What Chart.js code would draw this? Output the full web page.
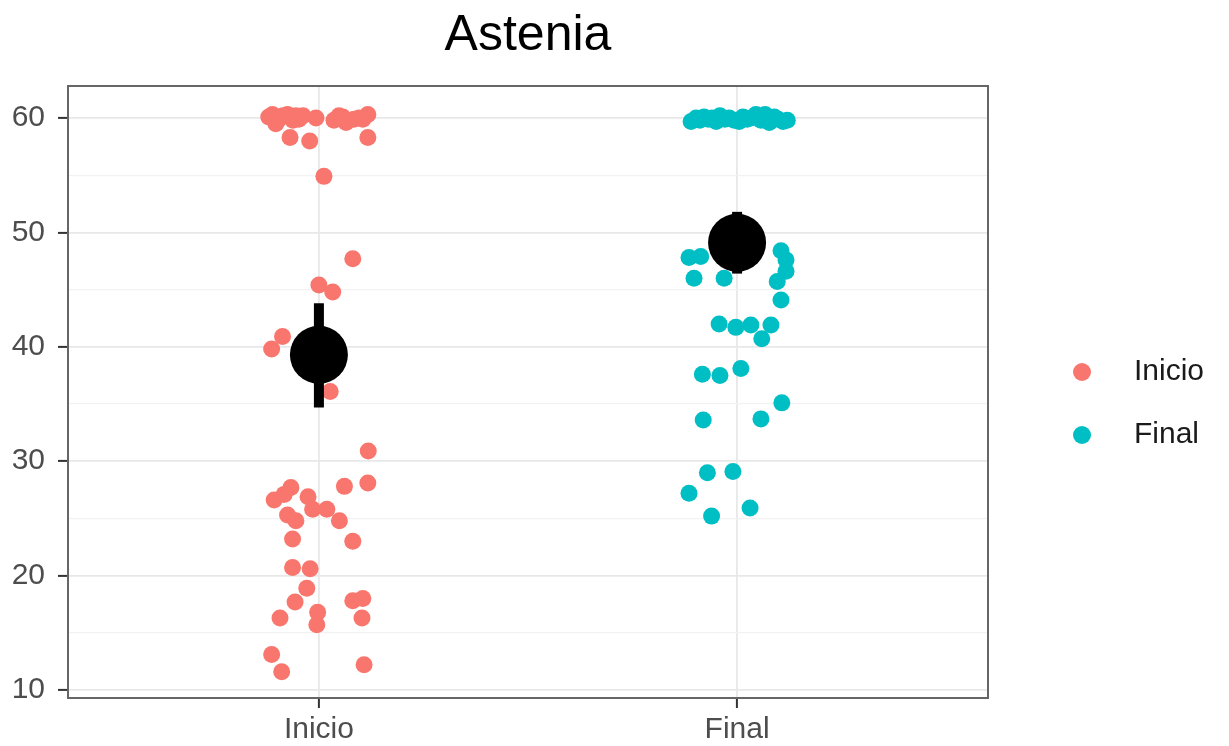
<!DOCTYPE html>
<html>
<head>
<meta charset="utf-8">
<script src="https://cdn.jsdelivr.net/npm/chart.js@4.4.1/dist/chart.umd.min.js"></script>
<style>
  html, body { margin: 0; padding: 0; background: #fff; }
  #wrap { width: 1229px; height: 746px; }
</style>
</head>
<body>
<div id="wrap"><canvas id="chart" width="1229" height="746"></canvas></div>
<script>
// chart data
const chartTitle = 'Astenia';
const categories = ['Inicio', 'Final'];
const seriesColors = ['#F8766D', '#00BFC4'];
const yMajorTicks = [10, 20, 30, 40, 50, 60];
const yMinorTicks = [15, 25, 35, 45, 55];

// jitter offsets (in category units) and values for each group
const inicioJitter = [
  -0.111, -0.096, -0.103, -0.075, -0.055, -0.048, -0.007, 0.048, 0.065, 0.084, 0.117,
  -0.120, -0.086, -0.062, -0.038, 0.036, 0.057, 0.096, 0.105,
  -0.069, -0.022, 0.117, 0.012, 0.081, 0.000, 0.033, -0.087, -0.113, 0.027,
  0.118, 0.117, -0.067, -0.083, -0.107, 0.061, -0.026, -0.015, 0.019, -0.075,
  -0.055, 0.049, -0.063, 0.081, -0.063, -0.021, -0.029, -0.057, 0.081, 0.105,
  -0.093, -0.003, -0.005, 0.103, -0.113, -0.089, 0.108
];
const inicioValues = [
  60.3, 59.9, 59.5, 60.3, 60.2, 59.9, 60.0, 60.2, 59.6, 59.9, 60.3,
  60.1, 60.2, 59.8, 60.2, 59.8, 60.1, 60.0, 59.9,
  58.3, 58.0, 58.3, 54.9, 47.7, 45.4, 44.8, 40.9, 39.8, 36.1,
  30.9, 28.1, 27.7, 27.1, 26.6, 27.8, 26.9, 25.8, 25.8, 25.3,
  24.8, 24.8, 23.2, 23.0, 20.7, 20.6, 18.9, 17.7, 17.8, 18.0,
  16.3, 16.8, 15.7, 16.3, 13.1, 11.6, 12.2
];
const finalJitter = [
  -0.110, -0.098, -0.089, -0.079, -0.069, -0.060, -0.050, -0.041, -0.029, -0.019, -0.007, 0.005,
  0.014, 0.024, 0.033, 0.045, 0.057, 0.067, 0.077, 0.089, 0.098, 0.110, 0.120,
  -0.115, -0.087, -0.103, -0.031, 0.105, 0.117, 0.117, 0.096, 0.105,
  -0.043, -0.003, 0.033, 0.081, 0.059, -0.083, -0.041, 0.009, 0.107,
  -0.081, 0.057, -0.071, -0.010, -0.115, -0.061, 0.031
];
const finalValues = [
  59.7, 60.0, 59.8, 60.1, 59.9, 60.0, 59.7, 60.2, 59.9, 60.0, 59.8, 59.7,
  60.1, 59.9, 60.0, 60.3, 59.8, 60.3, 59.6, 60.1, 59.9, 59.7, 59.8,
  47.8, 47.9, 46.0, 46.0, 48.4, 47.6, 46.6, 45.7, 44.1,
  42.0, 41.7, 41.9, 41.9, 40.7, 37.6, 37.5, 38.1, 35.1,
  33.6, 33.7, 29.0, 29.1, 27.2, 25.2, 25.9
];

// mean and interval per group
const means = [39.3, 49.1];
const errLow = [34.7, 46.4];
const errHigh = [43.8, 51.8];

const FONT = "'Liberation Sans', Arial, Helvetica, sans-serif";

const toPoints = (group, jitter, values) => values.map((v, i) => ({ x: group + jitter[i], y: v }));

const errorBarSets = categories.map((c, i) => ({
  label: c + ' range',
  data: [{ x: i + 1, y: errLow[i] }, { x: i + 1, y: errHigh[i] }],
  showLine: true,
  borderColor: '#000',
  borderWidth: 10,
  borderCapStyle: 'butt',
  pointRadius: 0,
  order: 0
}));

const jitterSets = [
  { label: categories[0], data: toPoints(1, inicioJitter, inicioValues), backgroundColor: seriesColors[0] },
  { label: categories[1], data: toPoints(2, finalJitter, finalValues), backgroundColor: seriesColors[1] }
].map(d => Object.assign(d, { pointRadius: 8.5, borderWidth: 0, order: 2 }));

const meanSet = {
  label: 'mean',
  data: means.map((m, i) => ({ x: i + 1, y: m })),
  backgroundColor: '#000',
  pointRadius: 29,
  borderWidth: 0,
  order: 0
};

const isMajor = ctx => ctx.tick && yMajorTicks.includes(ctx.tick.value);

// title, panel border and legend drawn by hand, ggplot style
const decorPlugin = {
  id: 'decor',
  afterDatasetsDraw(chart) {
    const { ctx, chartArea: a } = chart;
    ctx.save();
    ctx.strokeStyle = '#666';
    ctx.lineWidth = 2;
    ctx.strokeRect(a.left, a.top, a.right - a.left, a.bottom - a.top);
    ctx.restore();
  },
  afterDraw(chart) {
    const { ctx, chartArea: a } = chart;
    ctx.save();
    ctx.fillStyle = '#000';
    ctx.font = '50px ' + FONT;
    ctx.textAlign = 'center';
    ctx.textBaseline = 'alphabetic';
    ctx.fillText(chartTitle, (a.left + a.right) / 2, 50);

    ctx.font = '30px ' + FONT;
    ctx.textAlign = 'left';
    ctx.textBaseline = 'middle';
    categories.forEach((c, i) => {
      const y = 372 + i * 63;
      ctx.fillStyle = seriesColors[i];
      ctx.beginPath();
      ctx.arc(1082, y, 9, 0, Math.PI * 2);
      ctx.fill();
      ctx.fillStyle = '#1a1a1a';
      ctx.fillText(c, 1134, y);
    });
    ctx.restore();
  }
};

new Chart(document.getElementById('chart'), {
  type: 'scatter',
  data: { datasets: [...errorBarSets, meanSet, ...jitterSets] },
  options: {
    responsive: false,
    animation: false,
    layout: { padding: { top: 86, right: 241, left: 0, bottom: 0 } },
    plugins: {
      legend: { display: false },
      title: { display: false },
      tooltip: { enabled: false }
    },
    scales: {
      x: {
        type: 'linear',
        min: 0.4,
        max: 2.6,
        afterBuildTicks: s => { s.ticks = categories.map((c, i) => ({ value: i + 1 })); },
        afterFit: s => { s.height = 48; },
        ticks: {
          callback: (v, i) => categories[i],
          font: { family: FONT, size: 30 },
          color: '#4d4d4d',
          padding: 4,
          autoSkip: false,
          maxRotation: 0
        },
        grid: { color: '#e8e8e8', lineWidth: 1.8, tickLength: 10, tickColor: '#333', tickWidth: 2 },
        border: { display: false }
      },
      y: {
        type: 'linear',
        min: 9.3,
        max: 62.8,
        afterBuildTicks: s => {
          s.ticks = [...yMajorTicks, ...yMinorTicks].sort((a, b) => a - b).map(v => ({ value: v }));
        },
        afterFit: s => { s.width = 68; },
        ticks: {
          callback: v => yMajorTicks.includes(v) ? String(v) : '',
          font: { family: FONT, size: 30 },
          color: '#4d4d4d',
          padding: 13,
          autoSkip: false
        },
        grid: {
          color: ctx => isMajor(ctx) ? '#e8e8e8' : '#f2f2f2',
          lineWidth: ctx => isMajor(ctx) ? 1.8 : 1.2,
          tickColor: ctx => isMajor(ctx) ? '#333' : 'rgba(0,0,0,0)',
          tickLength: 10,
          tickWidth: 2
        },
        border: { display: false }
      }
    }
  },
  plugins: [decorPlugin]
});
</script>
</body>
</html>
